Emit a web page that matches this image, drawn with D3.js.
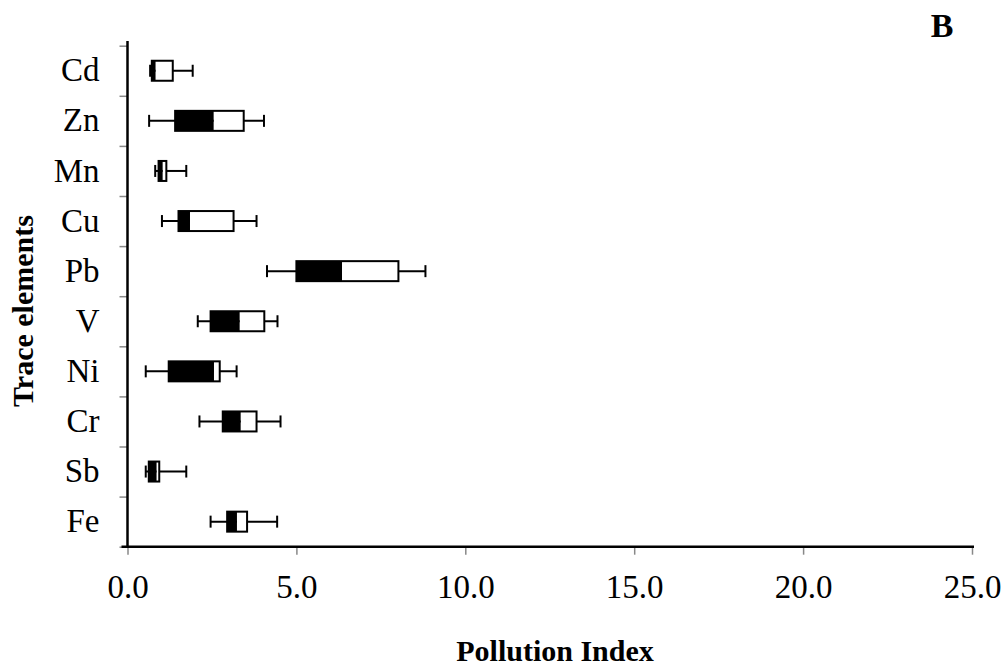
<!DOCTYPE html>
<html>
<head>
<meta charset="utf-8">
<script src="https://cdn.jsdelivr.net/npm/d3@7"></script>
<style>
  body { margin: 0; background: #fff; }
  svg { font-family: "Liberation Serif", "Times New Roman", serif; }
</style>
</head>
<body>
<svg id="chart" width="1008" height="668"></svg>
<script>
// categories, top to bottom
const elements = ['Cd', 'Zn', 'Mn', 'Cu', 'Pb', 'V', 'Ni', 'Cr', 'Sb', 'Fe'];
// box plot values (pollution index)
const wMin = [0.67, 0.64, 0.82, 1.02, 4.13, 2.08, 0.54, 2.13, 0.54, 2.46];
const q1   = [0.72, 1.41, 0.92, 1.51, 5.00, 2.46, 1.22, 2.82, 0.63, 2.95];
const med  = [0.83, 2.55, 1.04, 1.85, 6.35, 3.32, 2.56, 3.35, 0.86, 3.24];
const q3   = [1.34, 3.44, 1.15, 3.14, 8.02, 4.05, 2.73, 3.82, 0.94, 3.54];
const wMax = [1.93, 4.04, 1.74, 3.82, 8.82, 4.44, 3.23, 4.53, 1.74, 4.43];
const xTicks = [0, 5, 10, 15, 20, 25];

const data = elements.map((e, i) => ({
    name: e, lo: wMin[i], q1: q1[i], med: med[i], q3: q3[i], hi: wMax[i]
}));

const svg = d3.select('#chart');

const x = d3.scaleLinear().domain([0, 25]).range([127.5, 972]);
const y = d3.scaleBand().domain(elements).range([45.7, 546.7]);
const yIdx = d3.scaleLinear().domain([0, elements.length]).range([45.7, 546.7]);

// x axis
const gx = svg.append('g')
    .attr('transform', `translate(0, ${y.range()[1]})`)
    .call(d3.axisBottom(x).tickValues(xTicks).tickSize(8).tickPadding(20)
        .tickFormat(d3.format('.1f')));
gx.select('.domain').remove();
gx.selectAll('.tick line').attr('stroke', '#888').attr('stroke-width', 1.5);
gx.selectAll('.tick text')
    .attr('font-size', 33)
    .attr('font-family', '"Liberation Serif", serif')
    .attr('fill', '#000');

// y axis ticks between categories
const gy = svg.append('g')
    .attr('transform', `translate(${x(0)}, 0)`)
    .call(d3.axisLeft(yIdx).tickValues(d3.range(0, elements.length + 1)).tickSize(8).tickFormat(''));
gy.select('.domain').remove();
gy.selectAll('.tick line').attr('stroke', '#888').attr('stroke-width', 1.5);

// category labels
const gl = svg.append('g')
    .attr('transform', `translate(${x(0)}, 0)`)
    .call(d3.axisLeft(y).tickSize(0).tickPadding(28));
gl.select('.domain').remove();
gl.selectAll('.tick text')
    .attr('font-size', 33)
    .attr('font-family', '"Liberation Serif", serif')
    .attr('fill', '#000');

// axis lines
svg.append('line')
    .attr('x1', x(0)).attr('x2', x(0))
    .attr('y1', 41).attr('y2', y.range()[1] + 1)
    .attr('stroke', '#000').attr('stroke-width', 2.5);
svg.append('line')
    .attr('x1', x(0) - 6).attr('x2', x(25) + 2)
    .attr('y1', y.range()[1]).attr('y2', y.range()[1])
    .attr('stroke', '#000').attr('stroke-width', 2.5);

// boxes
const boxH = 20, capH = 12;
const g = svg.selectAll('.box')
    .data(data)
    .enter()
    .append('g')
    .attr('class', 'box')
    .attr('transform', d => `translate(0, ${y(d.name) + y.bandwidth() / 2})`);

g.append('line')
    .attr('x1', d => x(d.lo)).attr('x2', d => x(d.hi))
    .attr('stroke', '#000').attr('stroke-width', 2);
g.append('line')
    .attr('x1', d => x(d.lo)).attr('x2', d => x(d.lo))
    .attr('y1', -capH / 2).attr('y2', capH / 2)
    .attr('stroke', '#000').attr('stroke-width', 2);
g.append('line')
    .attr('x1', d => x(d.hi)).attr('x2', d => x(d.hi))
    .attr('y1', -capH / 2).attr('y2', capH / 2)
    .attr('stroke', '#000').attr('stroke-width', 2);
g.append('rect')
    .attr('x', d => x(d.med)).attr('y', -boxH / 2)
    .attr('width', d => x(d.q3) - x(d.med)).attr('height', boxH)
    .attr('fill', '#fff');
g.append('rect')
    .attr('x', d => x(d.q1)).attr('y', -boxH / 2)
    .attr('width', d => x(d.med) - x(d.q1)).attr('height', boxH)
    .attr('fill', '#000');
g.append('rect')
    .attr('x', d => x(d.q1)).attr('y', -boxH / 2)
    .attr('width', d => x(d.q3) - x(d.q1)).attr('height', boxH)
    .attr('fill', 'none')
    .attr('stroke', '#000').attr('stroke-width', 2);

// titles
svg.append('text')
    .attr('x', 555).attr('y', 661)
    .attr('text-anchor', 'middle')
    .attr('font-size', 30).attr('font-weight', 'bold')
    .text('Pollution Index');
svg.append('text')
    .attr('transform', 'translate(33, 311) rotate(-90)')
    .attr('text-anchor', 'middle')
    .attr('font-size', 30).attr('font-weight', 'bold')
    .text('Trace elements');
svg.append('text')
    .attr('x', 942).attr('y', 37)
    .attr('text-anchor', 'middle')
    .attr('font-size', 34).attr('font-weight', 'bold')
    .text('B');
</script>
</body>
</html>
